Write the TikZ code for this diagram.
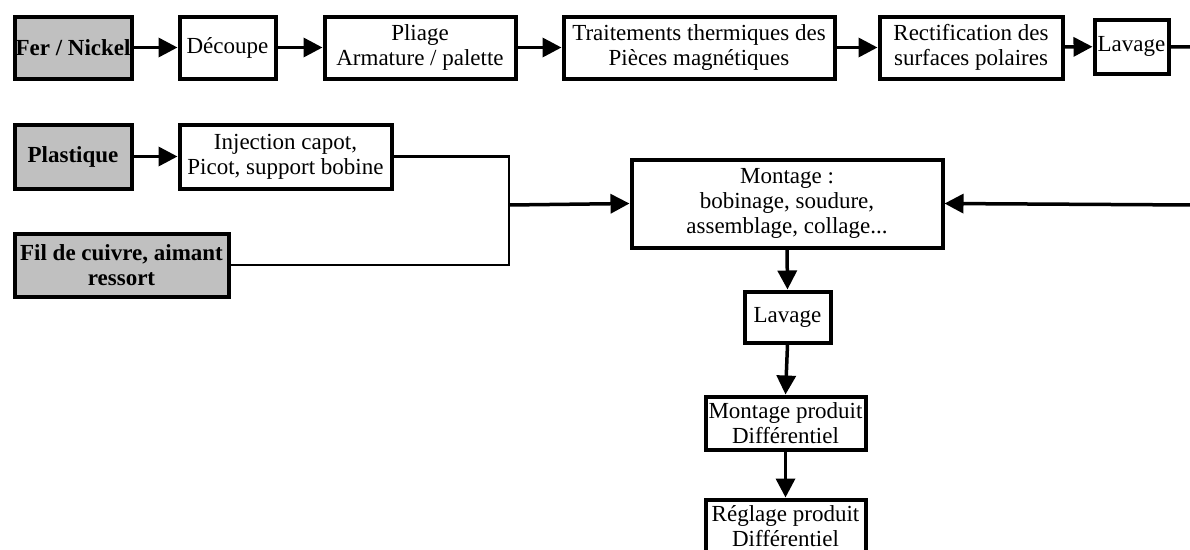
\documentclass[tikz,border=0pt]{standalone}
\usepackage{fontspec}
\setmainfont{Liberation Serif}
\usetikzlibrary{arrows.meta}
\definecolor{matgray}{RGB}{192,192,192}

\begin{document}
\begin{tikzpicture}[x=1pt,y=-1pt,
  box/.style={draw,line width=4pt,fill=white,align=center,inner sep=1pt,font=\fontsize{23}{25}\selectfont},
  matbox/.style={box,fill=matgray,font=\fontsize{23}{25}\selectfont\bfseries},
  flow/.style={line width=3.5pt,-{Triangle[length=19pt,width=19pt]}},
  feed/.style={line width=2.8pt}]
\useasboundingbox (0,0) rectangle (1190,549);
\node[matbox,minimum width=117pt,minimum height=62pt] (fer) at (73,47.5) {Fer / Nickel};
\node[box,minimum width=96pt,minimum height=62pt] (decoupe) at (227.5,47.5) {Découpe};
\node[box,minimum width=191pt,minimum height=62pt] (pliage) at (420,47.5) {Pliage\\Armature / palette};
\node[box,minimum width=271pt,minimum height=62pt] (traitement) at (699,47.5) {Traitements thermiques des\\Pièces magnétiques};
\node[box,minimum width=183pt,minimum height=62pt] (rectif) at (971,47.5) {Rectification des\\surfaces polaires};
\node[box,minimum width=74pt,minimum height=54pt] (lavageA) at (1131.5,46.5) {Lavage};
\coordinate (sortieA) at (1195,47);
\draw[flow] (fer) -- (decoupe);
\draw[flow] (decoupe) -- (pliage);
\draw[flow] (pliage) -- (traitement);
\draw[flow] (traitement) -- (rectif);
\draw[flow] (rectif) -- (lavageA);
\draw[line width=3.5pt] (lavageA) -- (sortieA);
\node[matbox,minimum width=117pt,minimum height=64pt] (plastique) at (73,156.5) {Plastique};
\node[box,minimum width=212pt,minimum height=64pt] (injection) at (285.5,156.5) {Injection capot,\\Picot, support bobine};
\node[matbox,minimum width=214pt,minimum height=63pt] (cuivre) at (121.5,265) {Fil de cuivre, aimant\\ressort};
\node[box,minimum width=311pt,minimum height=88pt] (montage) at (787,203.5) {Montage :\\bobinage, soudure,\\assemblage, collage...};
\coordinate (jonction) at (509,205);
\coordinate (entreeB) at (1195,205);
\draw[flow] (plastique) -- (injection);
\draw[feed] (injection.east) -| (jonction);
\draw[feed] (cuivre.east) -| (jonction);
\draw[flow] (jonction) -- (montage.west);
\draw[flow] (entreeB) -- (montage.east);
\node[box,minimum width=86pt,minimum height=51pt] (lavageB) at (787.5,317) {Lavage};
\node[box,minimum width=160pt,minimum height=53pt] (montprod) at (785.5,423) {Montage produit\\Différentiel};
\node[box,minimum width=160pt,minimum height=53pt] (reglprod) at (785.5,526) {Réglage produit\\Différentiel};
\draw[flow] (montage.south) -- (lavageB.north);
\draw[flow] (lavageB.south) -- (montprod.north);
\draw[flow] (montprod.south) -- (reglprod.north);
\end{tikzpicture}
\end{document}
